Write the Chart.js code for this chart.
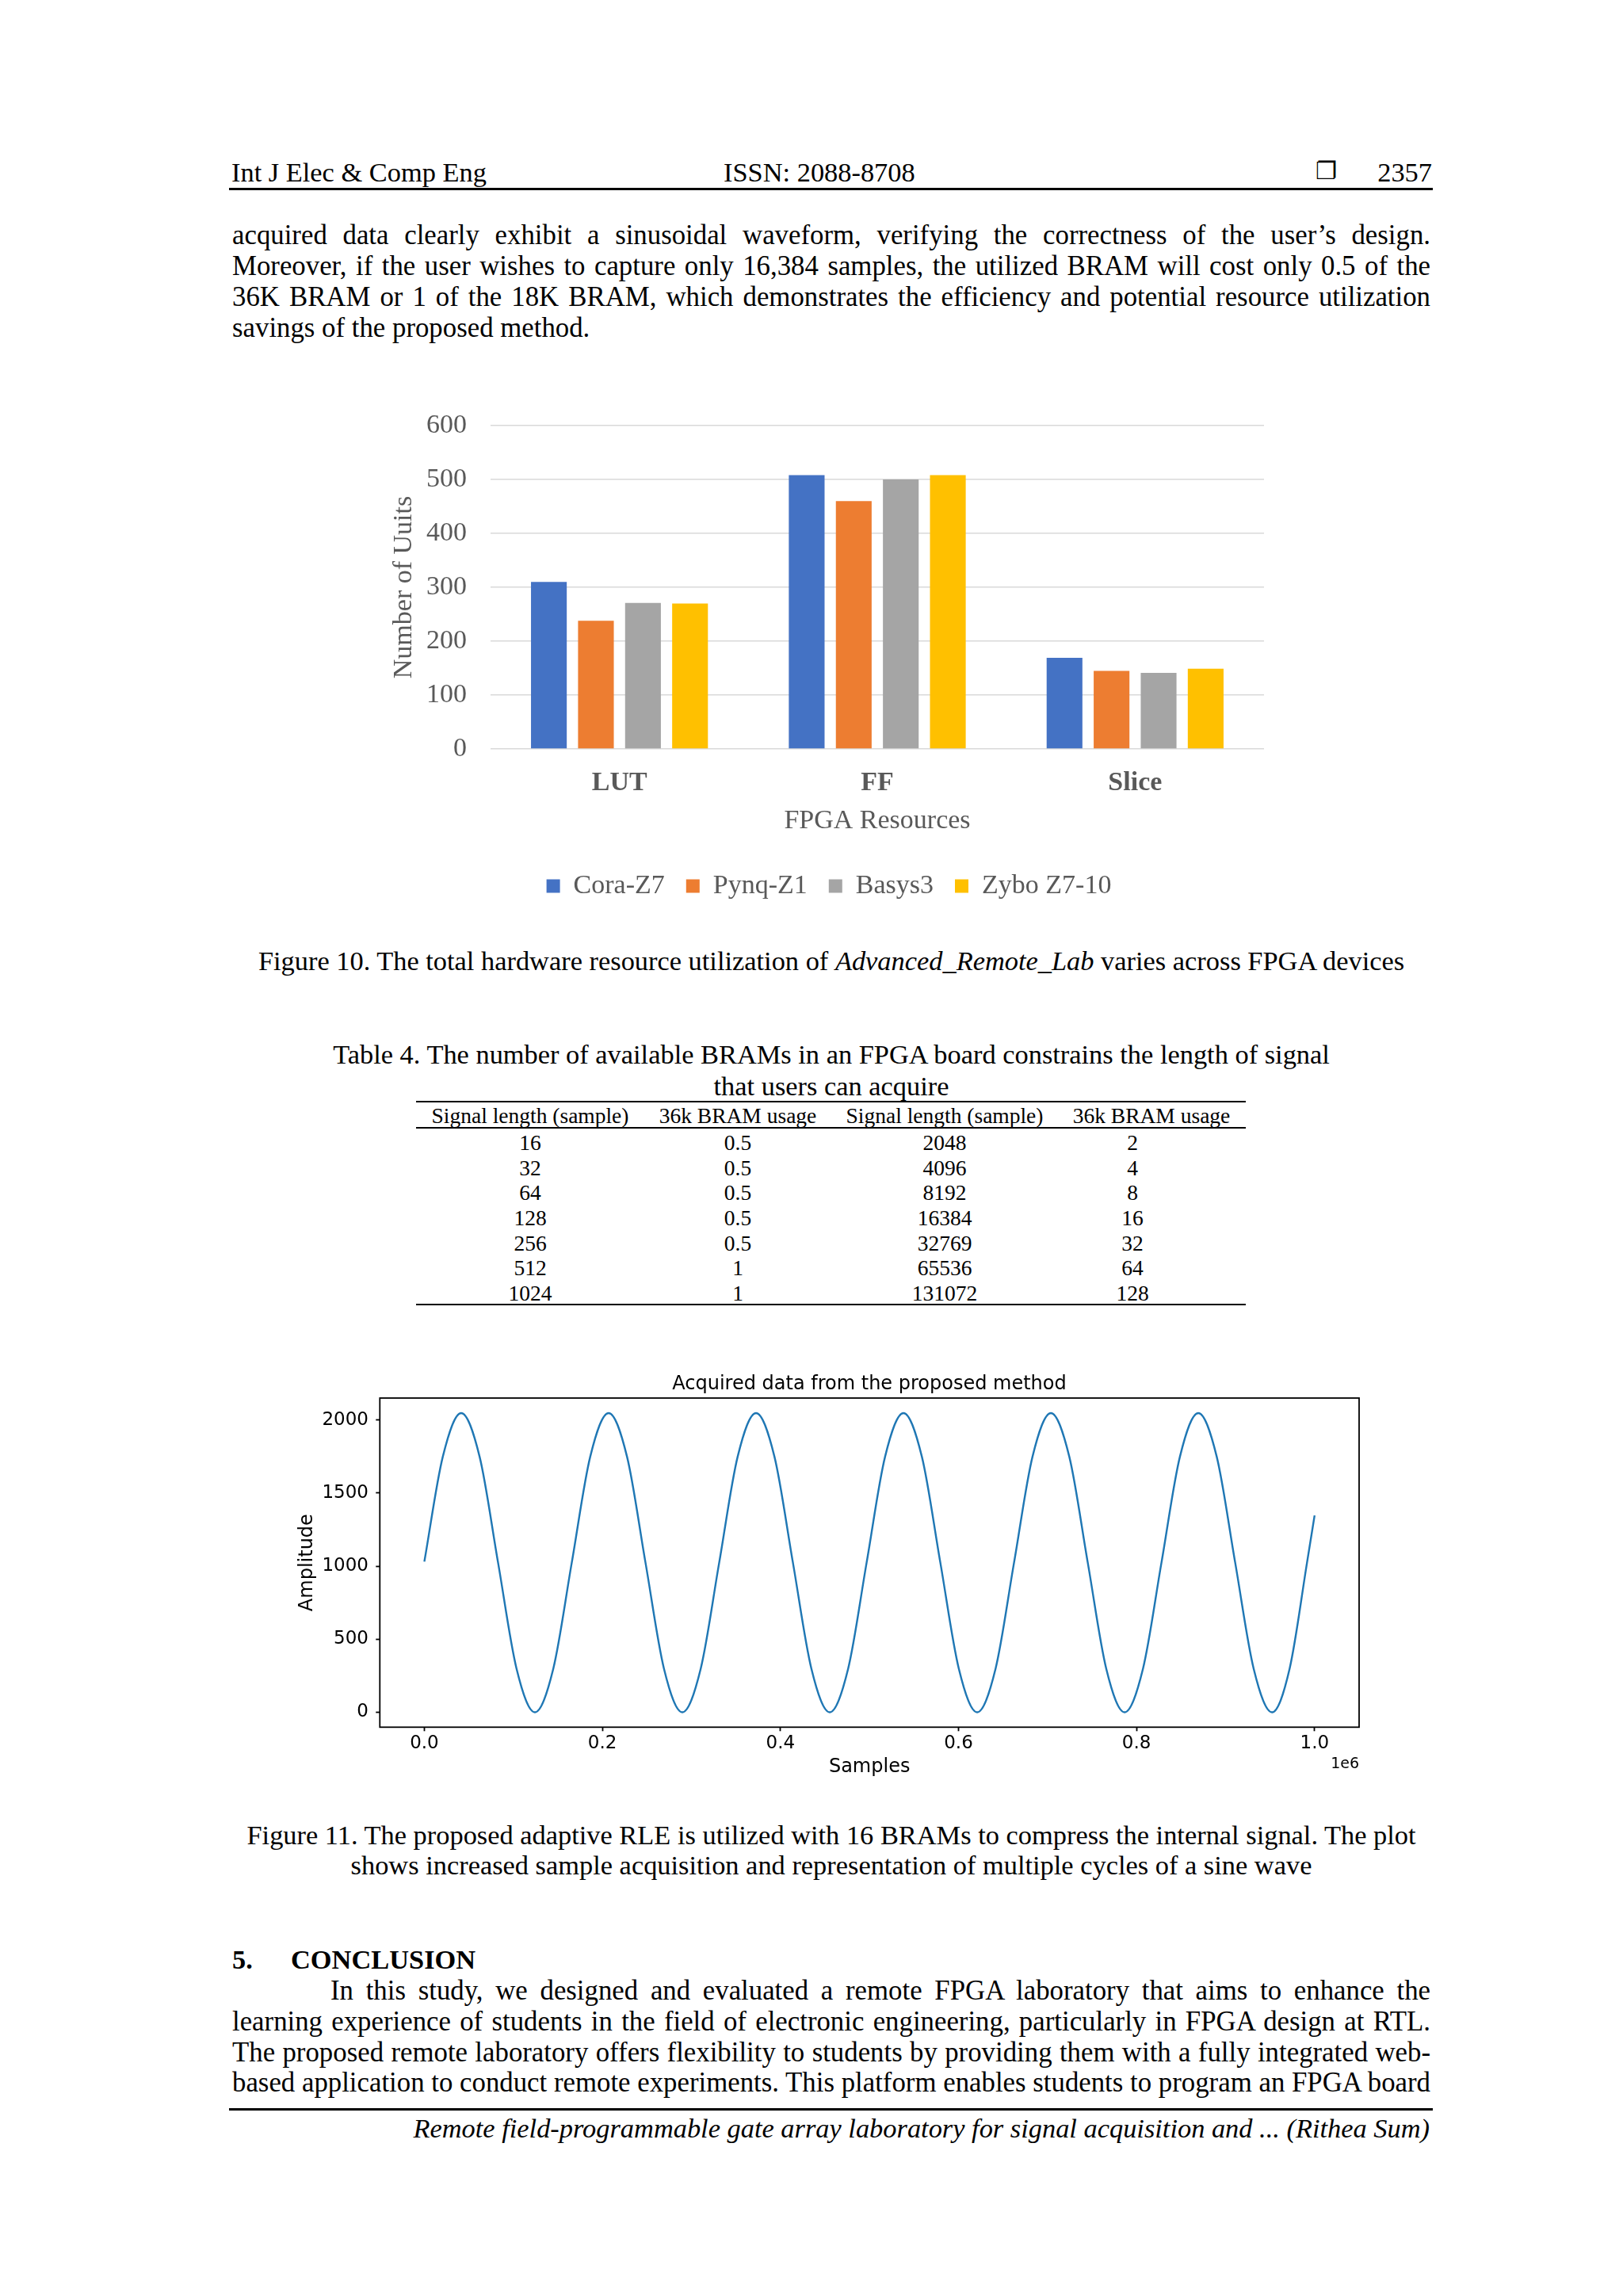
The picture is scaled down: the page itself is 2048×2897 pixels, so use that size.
<!DOCTYPE html>
<html>
<head>
<meta charset="utf-8">
<script src="https://cdn.jsdelivr.net/npm/chart.js@4.4.1/dist/chart.umd.min.js"></script>
<style>
  html, body { margin: 0; padding: 0; background: #fff; }
  body { position: relative; width: 2048px; height: 2897px; overflow: hidden;
         font-family: "Liberation Serif", "Times New Roman", serif; color: #000; }
  .t { position: absolute; white-space: nowrap; font-size: 34.4px; line-height: 40px; }
  .j { width: 1512px; text-align: justify; text-align-last: justify; white-space: normal; font-size: 34.8px; }
  .c { width: 1600px; left: 249px; text-align: center; }
  .rule { position: absolute; background: #000; }
  .cell { position: absolute; width: 320px; text-align: center; font-size: 27.5px; line-height: 32px; white-space: nowrap; }
  canvas { position: absolute; }
</style>
</head>
<body>

<!-- running header -->
<div class="t" style="left:292px; top:197px;">Int J Elec &amp; Comp Eng</div>
<div class="t" style="left:913px; top:197px;">ISSN: 2088-8708</div>
<div class="t" style="left:1660px; top:196px; font-family:'DejaVu Sans'; font-size:30px; font-weight:bold;">&#x2750;</div>
<div class="t" style="left:700px; top:197px; width:1107px; text-align:right;">2357</div>
<div class="rule" style="left:289px; top:237px; width:1519px; height:3px;"></div>

<!-- paragraph before the figure -->
<div class="t j" style="left:293px; top:277px;">acquired data clearly exhibit a sinusoidal waveform, verifying the correctness of the user’s design.</div>
<div class="t j" style="left:293px; top:316px;">Moreover, if the user wishes to capture only 16,384 samples, the utilized BRAM will cost only 0.5 of the</div>
<div class="t j" style="left:293px; top:355px;">36K BRAM or 1 of the 18K BRAM, which demonstrates the efficiency and potential resource utilization</div>
<div class="t" style="left:293px; top:394px; font-size:34.8px;">savings of the proposed method.</div>

<canvas id="resChart" width="1152" height="680" style="left:470px; top:500px;"></canvas>

<div class="t c" style="top:1192px;">Figure 10. The total hardware resource utilization of <i>Advanced_Remote_Lab</i> varies across FPGA devices</div>

<!-- table 4 -->
<div class="t c" style="top:1310px;">Table 4. The number of available BRAMs in an FPGA board constrains the length of signal</div>
<div class="t c" style="top:1350px;">that users can acquire</div>
<div class="rule" style="left:525px; top:1389px; width:1047px; height:2px;"></div>
<div class="rule" style="left:525px; top:1422px; width:1047px; height:1.5px;"></div>
<div class="rule" style="left:525px; top:1645px; width:1047px; height:2px;"></div>
<div id="tbl"></div>

<canvas id="sigChart" width="1474" height="540" style="left:360px; top:1720px;"></canvas>

<div class="t c" style="top:2295px;">Figure 11. The proposed adaptive RLE is utilized with 16 BRAMs to compress the internal signal. The plot</div>
<div class="t c" style="top:2333px;">shows increased sample acquisition and representation of multiple cycles of a sine wave</div>

<div class="t" style="left:293px; top:2452px; font-weight:bold;">5.</div>
<div class="t" style="left:367px; top:2452px; font-weight:bold;">CONCLUSION</div>
<div class="t j" style="left:417px; top:2492px; width:1388px;">In this study, we designed and evaluated a remote FPGA laboratory that aims to enhance the</div>
<div class="t j" style="left:293px; top:2531px;">learning experience of students in the field of electronic engineering, particularly in FPGA design at RTL.</div>
<div class="t j" style="left:293px; top:2570px;">The proposed remote laboratory offers flexibility to students by providing them with a fully integrated web-</div>
<div class="t j" style="left:293px; top:2608px;">based application to conduct remote experiments. This platform enables students to program an FPGA board</div>

<div class="rule" style="left:289px; top:2660px; width:1519px; height:3px;"></div>
<div class="t" style="left:0px; top:2665px; width:1804px; text-align:right; font-style:italic;">Remote field-programmable gate array laboratory for signal acquisition and ... (Rithea Sum)</div>

<script>
// Figure 10 data
const resources = ['LUT', 'FF', 'Slice'];
const boards = ['Cora-Z7', 'Pynq-Z1', 'Basys3', 'Zybo Z7-10'];
const coraZ7 = [310, 508, 169];
const pynqZ1 = [238, 460, 145];
const basys3 = [271, 500, 141];
const zyboZ710 = [270, 508, 149];
const boardColors = ['#4472C4', '#ED7D31', '#A5A5A5', '#FFC000'];
const unitTicks = [0, 100, 200, 300, 400, 500, 600];

// Table 4 data
const tableHead = ['Signal length (sample)', '36k BRAM usage', 'Signal length (sample)', '36k BRAM usage'];
const lenA = [16, 32, 64, 128, 256, 512, 1024];
const bramA = [0.5, 0.5, 0.5, 0.5, 0.5, 1, 1];
const lenB = [2048, 4096, 8192, 16384, 32769, 65536, 131072];
const bramB = [2, 4, 8, 16, 32, 64, 128];

// Figure 11 data
const sampleIdx = [0, 20700, 41400, 62100, 82800, 103500, 124200, 144900,
  165600, 186300, 207000, 227700, 248400, 269100, 289800, 310500,
  331200, 351900, 372600, 393300, 414000, 434700, 455400, 476100,
  496800, 517500, 538200, 558900, 579600, 600300, 621000, 641700,
  662400, 683100, 703800, 724500, 745200, 765900, 786600, 807300,
  828000, 848700, 869400, 890100, 910800, 931500, 952200, 972000,
  991500, 1000000];
const amplitude = [1031, 1748, 2047, 1748, 1024, 300, 0, 300,
  1024, 1748, 2047, 1748, 1024, 300, 0, 300,
  1024, 1748, 2047, 1748, 1024, 300, 0, 300,
  1024, 1748, 2047, 1748, 1024, 300, 0, 300,
  1024, 1748, 2047, 1748, 1024, 300, 0, 300,
  1024, 1748, 2047, 1748, 1024, 300, 0, 300,
  1024, 1347];
const sampleTicks = [0, 200000, 400000, 600000, 800000, 1000000];
const ampTicks = [0, 500, 1000, 1500, 2000];

const serif = '"Liberation Serif", "Times New Roman", serif';
const sans = '"DejaVu Sans", sans-serif';
const officeGray = '#595959';

// --- table ---
const tbl = document.getElementById('tbl');
function cell(text, cx, cy) {
  const d = document.createElement('div');
  d.className = 'cell';
  d.textContent = text;
  d.style.left = (cx - 160) + 'px';
  d.style.top = (cy - 16) + 'px';
  tbl.appendChild(d);
}
const headX = [669, 931, 1192, 1453];
const colX = [669, 931, 1192, 1429];
tableHead.forEach((h, i) => cell(h, headX[i], 1408));
lenA.forEach((v, r) => {
  const y = 1442 + r * 31.67;
  [lenA[r], bramA[r], lenB[r], bramB[r]].forEach((val, c) => cell(String(val), colX[c], y));
});

// empty right-hand axis used as a spacer, so legend/title stay centred on the canvas
const spacer = (w) => ({
  position: 'right',
  grid: { display: false },
  border: { display: false },
  ticks: { display: false },
  afterFit: (s) => { s.width = w; }
});

// --- Figure 10: bar chart ---
new Chart(document.getElementById('resChart'), {
  type: 'bar',
  data: {
    labels: resources,
    datasets: [coraZ7, pynqZ1, basys3, zyboZ710].map((vals, i) => ({
      label: boards[i],
      data: vals,
      backgroundColor: boardColors[i],
      borderColor: boardColors[i],
      borderWidth: 0,
      categoryPercentage: 0.73,
      barPercentage: 0.76
    }))
  },
  options: {
    responsive: false,
    animation: false,
    devicePixelRatio: 1,
    layout: { padding: { left: 0, right: 0, top: 37, bottom: 35 } },
    plugins: {
      legend: {
        position: 'bottom',
        labels: { boxWidth: 17, boxHeight: 17, padding: 27, color: officeGray,
                  font: { family: serif, size: 34 } }
      },
      tooltip: { enabled: false }
    },
    scales: {
      x: {
        grid: { display: false },
        border: { display: false },
        ticks: { color: officeGray, padding: 15, font: { family: serif, size: 34, weight: 'bold' } },
        title: { display: true, text: 'FPGA Resources', color: officeGray,
                 font: { family: serif, size: 34 }, padding: { top: 0, bottom: 17.6 } },
        afterFit: (s) => { s.height = 129; }
      },
      y: {
        min: 0,
        max: 600,
        afterBuildTicks: (s) => { s.ticks = unitTicks.map(v => ({ value: v })); },
        grid: { color: '#d9d9d9', lineWidth: 1.5, drawTicks: true, tickLength: 30, tickColor: 'rgba(0,0,0,0)' },
        border: { display: false },
        ticks: { padding: 0, color: officeGray, font: { family: serif, size: 34 } },
        title: { display: true, text: 'Number of Uuits', color: officeGray,
                 font: { family: serif, size: 34 }, padding: { top: 20, bottom: 0 } },
        afterFit: (s) => { s.width = 149; }
      },
      yPad: Object.assign({ min: 0, max: 600 }, spacer(27))
    }
  }
});

// --- Figure 11: line chart ---
const axesFrame = {
  id: 'axesFrame',
  afterDraw(chart) {
    const { ctx, chartArea: a } = chart;
    ctx.save();
    ctx.strokeStyle = '#000';
    ctx.lineWidth = 1.8;
    ctx.strokeRect(a.left, a.top, a.right - a.left, a.bottom - a.top);
    ctx.fillStyle = '#000';
    ctx.font = '19px ' + sans;
    ctx.textAlign = 'right';
    ctx.textBaseline = 'middle';
    ctx.fillText('1e6', a.right, a.bottom + 47);
    ctx.restore();
  }
};

new Chart(document.getElementById('sigChart'), {
  type: 'line',
  data: {
    datasets: [{
      data: sampleIdx.map((x, i) => ({ x: x, y: amplitude[i] })),
      borderColor: '#1f77b4',
      borderWidth: 2.4,
      pointRadius: 0,
      fill: false,
      cubicInterpolationMode: 'monotone'
    }]
  },
  options: {
    responsive: false,
    animation: false,
    devicePixelRatio: 1,
    layout: { padding: { left: 0, right: 0, top: 0, bottom: 0 } },
    plugins: {
      legend: { display: false },
      tooltip: { enabled: false },
      title: { display: true, text: 'Acquired data from the proposed method', color: '#000',
               font: { family: sans, size: 24, weight: 'normal' }, padding: { top: 12.6, bottom: 2.6 } }
    },
    scales: {
      x: {
        type: 'linear',
        min: -50000,
        max: 1050000,
        afterBuildTicks: (s) => { s.ticks = sampleTicks.map(v => ({ value: v })); },
        grid: { drawOnChartArea: false, drawTicks: true, tickLength: 5, tickColor: '#000', tickWidth: 1.8 },
        border: { display: false },
        ticks: { color: '#000', padding: 2, maxRotation: 0, font: { family: sans, size: 23 },
                 callback: (v) => (v / 1e6).toFixed(1) },
        title: { display: true, text: 'Samples', color: '#000', font: { family: sans, size: 24 },
                 padding: { top: 0, bottom: 15.6 } },
        afterFit: (s) => { s.height = 80.7; }
      },
      y: {
        min: -102,
        max: 2150,
        afterBuildTicks: (s) => { s.ticks = ampTicks.map(v => ({ value: v })); },
        grid: { drawOnChartArea: false, drawTicks: true, tickLength: 5, tickColor: '#000', tickWidth: 1.8 },
        border: { display: false },
        ticks: { color: '#000', padding: 9.3, font: { family: sans, size: 23 },
                 callback: (v) => String(v) },
        title: { display: true, text: 'Amplitude', color: '#000', font: { family: sans, size: 24 },
                 padding: { top: 13.6, bottom: 0 } },
        afterFit: (s) => { s.width = 119.3; }
      },
      yPad: Object.assign({ min: -102, max: 2150 }, spacer(119))
    }
  },
  plugins: [axesFrame]
});
</script>
</body>
</html>
